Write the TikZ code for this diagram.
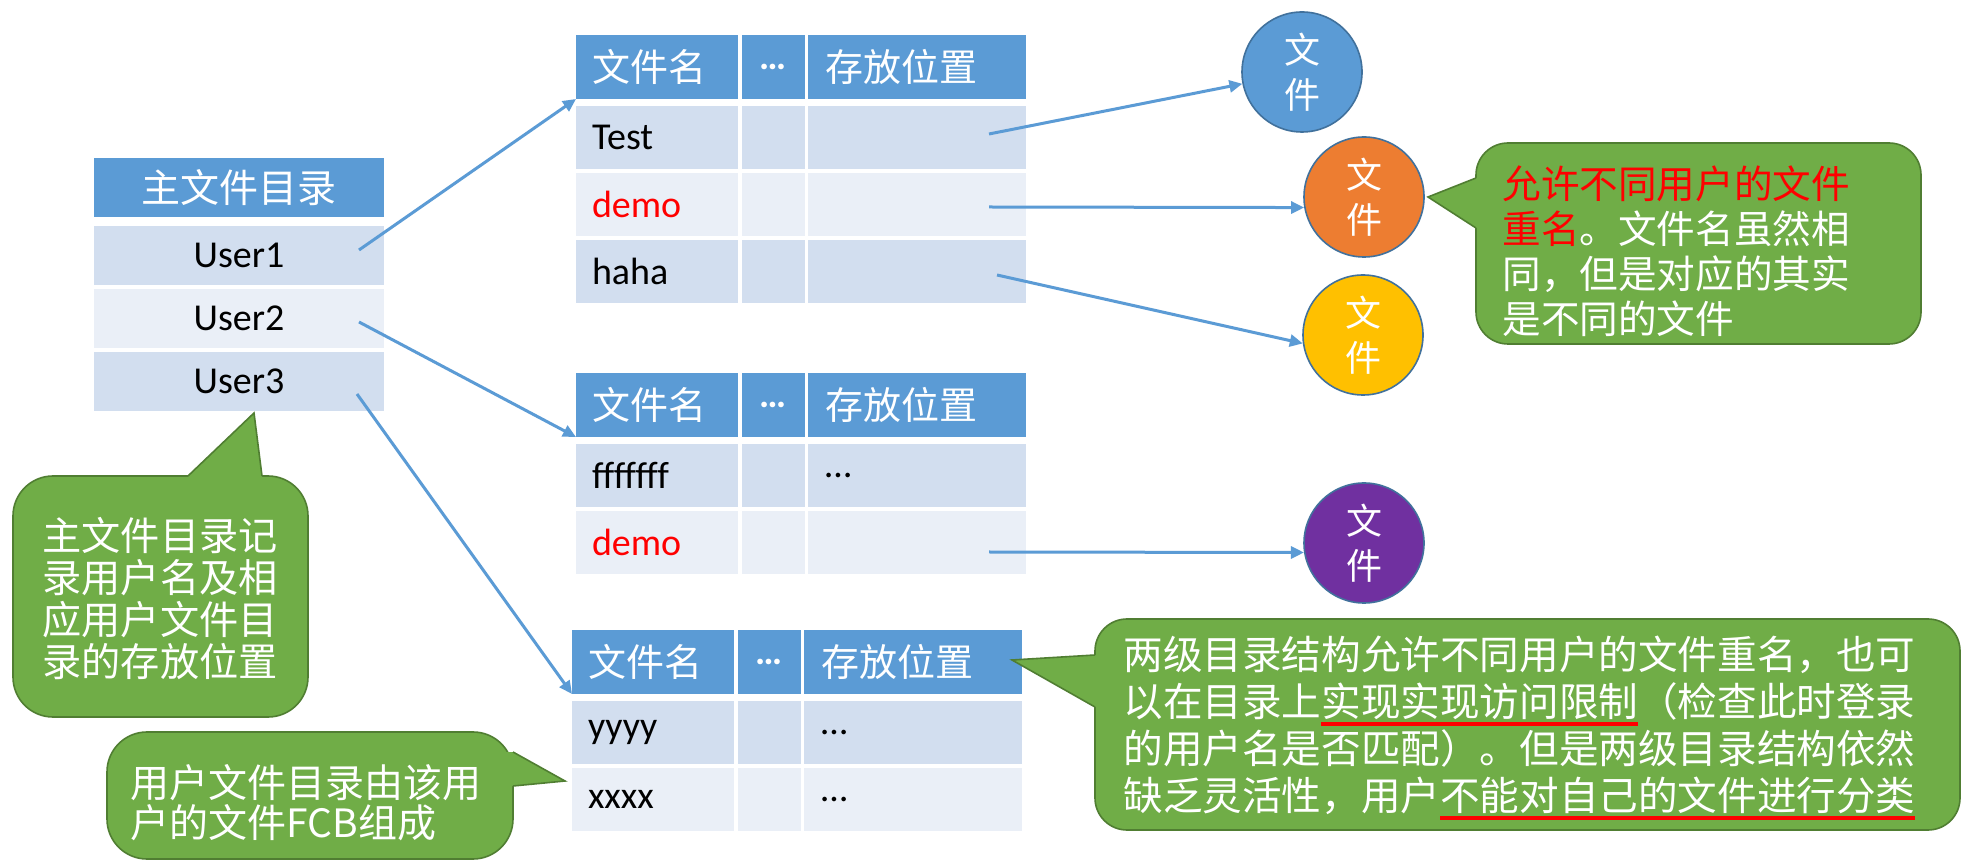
\documentclass[tikz,border=0pt]{standalone}
\usepackage{fontspec}
\setmainfont{Carlito}
\newfontfamily\cjk{Noto Sans CJK SC}
\usetikzlibrary{arrows.meta}
\definecolor{hblue}{HTML}{5B9BD5}
\definecolor{rowA}{HTML}{D2DEEF}
\definecolor{rowB}{HTML}{EAEFF7}
\definecolor{cgreen}{HTML}{70AD47}
\definecolor{cedge}{HTML}{507E32}
\definecolor{corange}{HTML}{ED7D31}
\definecolor{cyellow}{HTML}{FFC000}
\definecolor{cpurple}{HTML}{7030A0}
\definecolor{cedgeb}{HTML}{41719C}
\definecolor{ured}{HTML}{FF0000}
\newcommand\redul[1]{\setbox0\hbox{#1}\rlap{\textcolor{ured}{\rule[-5pt]{\wd0}{2pt}}}\box0}
\newcommand\hrow[3]{%
  \node[hdr,colA] (#1a) at (#2,#3) {文件名};
  \node[hdr,colB] (#1b) at ({#2+166},#3) {{\rmfamily\bfseries …}};
  \node[hdr,colC] (#1c) at ({#2+232},#3) {存放位置};}
\newcommand\drow[6]{%
  \node[#4,colA] (#1a) at (#2,#3) {#5};
  \node[#4,colB] (#1b) at ({#2+166},#3) {};
  \node[#4,colC] (#1c) at ({#2+232},#3) {#6};}
\begin{document}
\begin{tikzpicture}[x=0.5pt,y=-0.5pt,
  cell/.style={anchor=north west, inner xsep=0pt, inner ysep=0pt, outer sep=0pt, minimum height=31.5pt},
  hdr/.style={cell, fill=hblue, text=white, minimum height=32pt, font=\cjk\fontsize{19}{19}\selectfont},
  ra/.style={cell, fill=rowA, font=\fontsize{19}{19}\selectfont},
  rb/.style={cell, fill=rowB, font=\fontsize{19}{19}\selectfont},
  colA/.style={text width=65pt, inner xsep=8pt, align=left},
  colB/.style={minimum width=31.5pt, align=center},
  colC/.style={text width=92pt, inner xsep=8.5pt, align=left},
  mcell/.style={anchor=north west, inner sep=0pt, outer sep=0pt, minimum width=145pt, minimum height=29.5pt},
  mhdr/.style={mcell, fill=hblue, text=white, font=\cjk\fontsize{19.5}{19.5}\selectfont},
  mra/.style={mcell, fill=rowA, font=\fontsize{19}{19}\selectfont},
  mrb/.style={mcell, fill=rowB, font=\fontsize{19}{19}\selectfont},
  fcirc/.style={circle, minimum size=60pt, inner sep=0pt, draw=cedgeb, line width=0.8pt, text=white, align=center, font=\cjk\fontsize{18}{22.5}\selectfont},
  arr/.style={draw=hblue, line width=1.5pt, -{Triangle[length=6.5pt,width=6pt]}},
  cbody/.style={fill=cgreen, draw=cedge, line width=0.8pt, rounded corners=20pt},
  cline/.style={draw=cedge, line width=0.8pt},
  ctext/.style={text=white, inner sep=0pt}]
\fill[white] (0,0) rectangle (1971,860);
\path[use as bounding box] (0,0) rectangle (1971,860);

% main file directory
\node[mhdr] (mh) at (94,158) {主文件目录};
\node[mra] (u1) at (94,226) {User1};
\node[mrb] (u2) at (94,289) {User2};
\node[mra] (u3) at (94,352) {User3};

% user file directory 1
\hrow{t1h}{576}{35}
\drow{t1r1}{576}{106}{ra}{Test}{}
\drow{t1r2}{576}{173}{rb}{\textcolor{ured}{demo}}{}
\drow{t1r3}{576}{240}{ra}{haha}{}

% user file directory 2
\hrow{t2h}{576}{373}
\drow{t2r1}{576}{444}{ra}{fffffff}{…}
\drow{t2r2}{576}{511}{rb}{\textcolor{ured}{demo}}{}

% user file directory 3
\hrow{t3h}{572}{630}
\drow{t3r1}{572}{701}{ra}{yyyy}{…}
\drow{t3r2}{572}{768}{rb}{xxxx}{…}

% files
\node[fcirc, fill=hblue] (f1) at (1302,72) {文\\件};
\node[fcirc, fill=corange] (f2) at (1364,197) {文\\件};
\node[fcirc, fill=cyellow] (f3) at (1363,335) {文\\件};
\node[fcirc, fill=cpurple] (f4) at (1364,543) {文\\件};

% connectors
\coordinate (s1) at (359,250);
\coordinate (s2) at (359,322);
\coordinate (s3) at (357,394);
\coordinate (s4) at (989,134);
\coordinate (s5) at (989,207);
\coordinate (s6) at (997,275);
\coordinate (s7) at (989,552);
\draw[arr] (s1) -- (t1ha.south west);
\draw[arr] (s2) -- (t2ha.south west);
\draw[arr] (s3) -- (t3ha.south west);
\draw[arr] (s4) -- (f1);
\draw[arr] (s5) -- (f2.190);
\draw[arr] (s6) -- (f3.188);
\draw[arr] (s7) -- (f4.189);

% callout 1
\draw[cbody] (13,476) rectangle (308,717);
\fill[cgreen] (188,476) -- (254,413) -- (262,476) -- (262,485) -- (188,485) -- cycle;
\draw[cline] (188,476) -- (254,413) -- (262,476);
\node[ctext, align=center, font=\cjk\fontsize{19.6}{21}\selectfont] (n1) at (160,599)
  {主文件目录记\\录用户名及相\\应用户文件目\\录的存放位置};

% callout 2
\draw[cbody] (107,732) rectangle (513,859);
\fill[cgreen] (513,752) -- (565,781) -- (513,786) -- (504,786) -- (504,752) -- cycle;
\draw[cline] (513,752) -- (565,781) -- (513,786);
\node[ctext, anchor=west, align=left, font=\cjk\fontsize{19.5}{20}\selectfont] (n2) at (130,803)
  {用户文件目录由该用\\户的文件FCB组成};

% callout 3
\draw[cbody, rounded corners=16pt] (1476,143) rectangle (1921,344);
\fill[cgreen] (1476,178) -- (1428,197) -- (1476,228) -- (1485,228) -- (1485,178) -- cycle;
\draw[cline] (1476,178) -- (1428,197) -- (1476,228);
\node[ctext, anchor=west, align=left, font=\cjk\fontsize{19.3}{22.5}\selectfont] (n3) at (1502,251)
  {\textcolor{ured}{允许不同用户的文件}\\\textcolor{ured}{重名}。文件名虽然相\\同，但是对应的其实\\是不同的文件};

% callout 4
\draw[cbody, rounded corners=16pt] (1095,619) rectangle (1960,830);
\fill[cgreen] (1095,655) -- (1012,660) -- (1095,707) -- (1104,707) -- (1104,655) -- cycle;
\draw[cline] (1095,655) -- (1012,660) -- (1095,707);
\node[ctext, anchor=west, align=left, font=\cjk\fontsize{19.8}{23.5}\selectfont] (n4) at (1123,728)
  {两级目录结构允许不同用户的文件重名，也可\\以在目录上\redul{实现实现访问限制}（检查此时登录\\的用户名是否匹配）。但是两级目录结构依然\\缺乏灵活性，用户\redul{不能对自己的文件进行分类}};
\end{tikzpicture}
\end{document}
